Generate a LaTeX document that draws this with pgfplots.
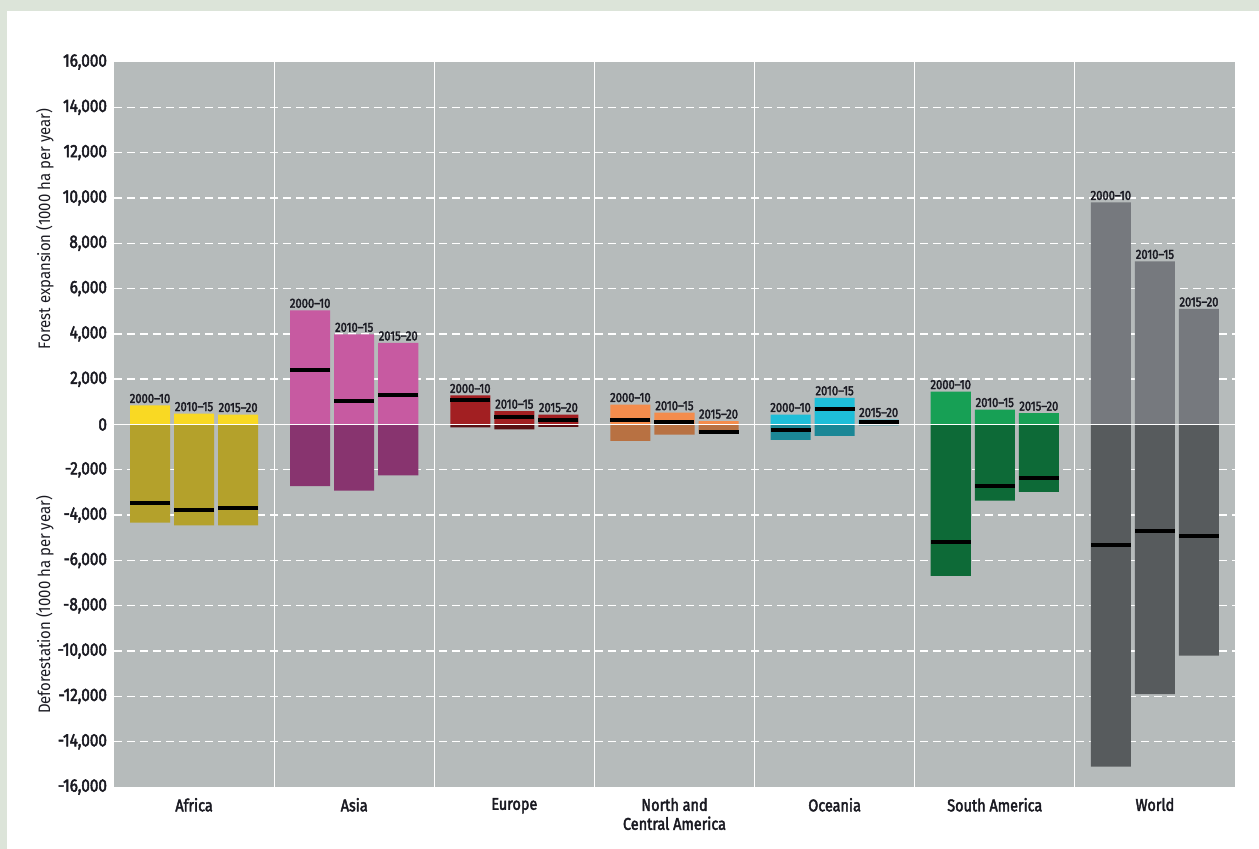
\documentclass[border=0pt]{standalone}
\usepackage{pgfplots}
\pgfplotsset{compat=1.18}
\usepackage{fontspec}
\setmainfont{Fira Sans}[FakeStretch=0.9]
\newfontfamily\lblfont{Fira Sans}[FakeStretch=0.85, FakeBold=2.5]
\definecolor{bordergreen}{HTML}{DCE4D9}
\definecolor{plotbg}{HTML}{B6BBBB}
\definecolor{txt}{HTML}{1A1A22}
\definecolor{afE}{HTML}{F9D923}\definecolor{afD}{HTML}{B4A12B}
\definecolor{asE}{HTML}{C75AA1}\definecolor{asD}{HTML}{88346F}
\definecolor{euE}{HTML}{A21F22}\definecolor{euD}{HTML}{5A1014}
\definecolor{naE}{HTML}{F48C4C}\definecolor{naD}{HTML}{B87142}
\definecolor{ocE}{HTML}{1EBED8}\definecolor{ocD}{HTML}{1B8796}
\definecolor{saE}{HTML}{17A055}\definecolor{saD}{HTML}{0D6A37}
\definecolor{woE}{HTML}{76797E}\definecolor{woD}{HTML}{575B5D}
\pgfplotsset{
  barE/.style={ybar, bar width=0.25, bar shift=0pt, draw=none, fill=#1,
    nodes near coords, point meta=explicit symbolic,
    every node near coord/.append style={font=\lblfont\fontsize{6.6}{7}\selectfont, text=txt, inner sep=1pt}},
  barD/.style={ybar, bar width=0.25, bar shift=0pt, draw=none, fill=#1},
}
\begin{document}
\begin{tikzpicture}
\fill[bordergreen] (-57pt,-31pt) rectangle (572.5pt,393.5pt);
\fill[white] (-53.5pt,-31pt) rectangle (572.5pt,388pt);
\begin{axis}[
  scale only axis, width=560.5pt, height=362.5pt,
  xmin=-0.5, xmax=6.5, ymin=-16000, ymax=16000,
  axis background/.style={fill=plotbg},
  axis line style={draw=none},
  major tick length=0pt, minor tick length=0pt,
  xtick={0,1,2,3,4,5,6},
  xticklabels={Africa,Asia,Europe,{North and\\Central America},Oceania,South America,World},
  xticklabel style={align=center, font=\lblfont\fontsize{8.5}{9.5}\selectfont, text=txt, yshift=-2pt},
  ytick={-16000,-14000,-12000,-10000,-8000,-6000,-4000,-2000,0,2000,4000,6000,8000,10000,12000,14000,16000},
  scaled y ticks=false,
  /pgf/number format/1000 sep={,},
  /pgf/number format/assume math mode=true,
  yticklabel style={font=\lblfont\fontsize{9}{10}\selectfont, text=txt},
  extra x ticks={0.5,1.5,2.5,3.5,4.5,5.5}, extra x tick labels={},
  extra x tick style={grid=major, major grid style={white, line width=0.6pt}},
  extra y ticks={-14000,-12000,-10000,-8000,-6000,-4000,-2000,2000,4000,6000,8000,10000,12000,14000},
  extra y tick labels={},
  extra y tick style={grid=major, major grid style={white, line width=0.7pt, dash pattern=on 4pt off 2.5pt}},
]
% Africa
\addplot[barE=afE] coordinates {(-0.275,840)[2000–10] (0,480)[2010–15] (0.275,440)[2015–20]};
\addplot[barD=afD] coordinates {(-0.275,-4330) (0,-4450) (0.275,-4450)};
% Asia
\addplot[barE=asE] coordinates {(0.725,5040)[2000–10] (1,3980)[2010–15] (1.275,3600)[2015–20]};
\addplot[barD=asD] coordinates {(0.725,-2720) (1,-2920) (1.275,-2250)};
% Europe
\addplot[barE=euE] coordinates {(1.725,1280)[2000–10] (2,590)[2010–15] (2.275,440)[2015–20]};
\addplot[barD=euD] coordinates {(1.725,-130) (2,-220) (2.275,-110)};
% North and Central America
\addplot[barE=naE] coordinates {(2.725,880)[2000–10] (3,520)[2010–15] (3.275,150)[2015–20]};
\addplot[barD=naD] coordinates {(2.725,-720) (3,-450) (3.275,-400)};
% Oceania
\addplot[barE=ocE] coordinates {(3.725,440)[2000–10] (4,1180)[2010–15] (4.275,220)[2015–20]};
\addplot[barD=ocD] coordinates {(3.725,-680) (4,-500) (4.275,-40)};
% South America
\addplot[barE=saE] coordinates {(4.725,1450)[2000–10] (5,660)[2010–15] (5.275,500)[2015–20]};
\addplot[barD=saD] coordinates {(4.725,-6680) (5,-3360) (5.275,-2970)};
% World
\addplot[barE=woE] coordinates {(5.725,9800)[2000–10] (6,7200)[2010–15] (6.275,5100)[2015–20]};
\addplot[barD=woD] coordinates {(5.725,-15100) (6,-11900) (6.275,-10200)};
% zero line
\addplot[white, line width=0.7pt] coordinates {(-0.5,0) (6.5,0)};
% net change
\addplot[only marks, mark=-, mark size=10pt, mark options={line width=2pt, draw=black}] coordinates {
  (-0.275,-3450) (0,-3790) (0.275,-3690)
  (0.725,2390) (1,1040) (1.275,1320)
  (1.725,1100) (2,320) (2.275,220)
  (2.725,190) (3,130) (3.275,-310)
  (3.725,-250) (4,700) (4.275,100)
  (4.725,-5190) (5,-2720) (5.275,-2380)
  (5.725,-5300) (6,-4700) (6.275,-4900)};
\end{axis}
\node[rotate=90, font=\fontsize{8.3}{10}\selectfont, text=txt] at (-34.5pt,279pt) {Forest expansion (1000 ha per year)};
\node[rotate=90, font=\fontsize{8.3}{10}\selectfont, text=txt] at (-34.5pt,91pt) {Deforestation (1000 ha per year)};
\end{tikzpicture}
\end{document}
